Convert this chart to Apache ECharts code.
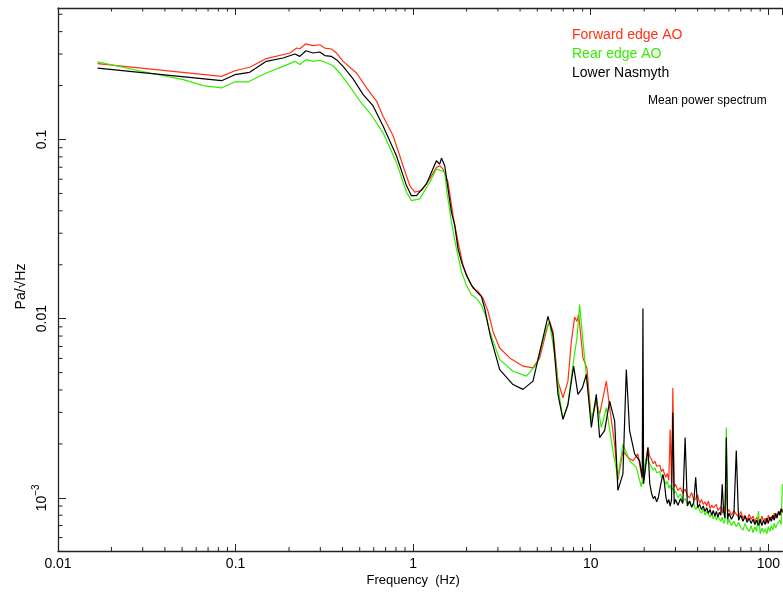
<!DOCTYPE html>
<html>
<head>
<meta charset="utf-8">
<title>Mean power spectrum</title>
<script src="https://cdn.jsdelivr.net/npm/echarts@6/dist/echarts.min.js"></script>
<style>
  html, body { margin: 0; padding: 0; background: #fff; }
  #chart { width: 783px; height: 592px; }
</style>
</head>
<body>
<div id="chart"></div>
<script>
// Spectrum values: [frequency (Hz), amplitude (Pa/sqrt(Hz))]
const seriesNames = ['Forward edge AO', 'Rear edge AO', 'Lower Nasmyth'];
const seriesColors = ['#ff3311', '#33ee00', '#000000'];

// Forward edge AO, 0.017 – 21.5 Hz
const forwardLow = [
  [0.0167, 0.265], [0.0834, 0.225], [0.0991, 0.242], [0.120, 0.253], [0.149, 0.283],
  [0.202, 0.304], [0.221, 0.324], [0.230, 0.321], [0.249, 0.342], [0.273, 0.334],
  [0.298, 0.338], [0.318, 0.324], [0.347, 0.320], [0.370, 0.304], [0.403, 0.273],
  [0.480, 0.235], [0.546, 0.194], [0.622, 0.164], [0.677, 0.135], [0.771, 0.105],
  [0.877, 0.0714], [0.957, 0.0553], [1.021, 0.0508], [1.114, 0.0519], [1.240, 0.0602],
  [1.352, 0.0699], [1.411, 0.0714], [1.473, 0.0684], [1.572, 0.0577], [1.677, 0.0377],
  [1.789, 0.0268], [1.909, 0.0199], [2.036, 0.0168], [2.173, 0.0148], [2.319, 0.0142],
  [2.475, 0.0130], [2.640, 0.0110], [2.816, 0.00849], [3.071, 0.00686], [3.497, 0.00604],
  [4.155, 0.00543], [4.729, 0.00531], [5.158, 0.00604], [5.743, 0.00924], [5.871, 0.00965],
  [6.128, 0.00849], [6.538, 0.00448], [6.975, 0.00362], [7.441, 0.00448], [7.776, 0.00747],
  [8.117, 0.0102], [8.362, 0.00965], [8.55, 0.0106], [9.040, 0.00604], [9.519, 0.00531],
  [10.08, 0.00269], [10.75, 0.00347], [11.22, 0.00292], [12.24, 0.00448], [12.78, 0.00319],
  [13.63, 0.00199], [14.22, 0.00125], [15.18, 0.00183], [16.20, 0.00168], [17.28, 0.00161],
  [18.43, 0.00176], [19.67, 0.00120], [20.99, 0.00191], [21.5, 0.00170]
];

// Rear edge AO, 0.017 – 21.5 Hz
const rearLow = [
  [0.0167, 0.271], [0.0329, 0.235], [0.0507, 0.216], [0.0657, 0.200], [0.0834, 0.194],
  [0.0991, 0.210], [0.118, 0.210], [0.149, 0.235], [0.185, 0.256], [0.216, 0.273],
  [0.230, 0.262], [0.249, 0.279], [0.273, 0.273], [0.298, 0.277], [0.325, 0.268],
  [0.354, 0.258], [0.386, 0.235], [0.440, 0.198], [0.501, 0.164], [0.570, 0.141],
  [0.677, 0.109], [0.805, 0.0745], [0.917, 0.0508], [0.978, 0.0456], [1.089, 0.0466],
  [1.240, 0.0577], [1.352, 0.0684], [1.443, 0.0669], [1.506, 0.0656], [1.540, 0.0530],
  [1.643, 0.0346], [1.752, 0.0246], [1.870, 0.0183], [1.994, 0.0154], [2.129, 0.0136],
  [2.271, 0.0130], [2.423, 0.0119], [2.585, 0.0101], [2.698, 0.00849], [3.071, 0.00591],
  [3.648, 0.00509], [4.342, 0.00478], [4.942, 0.00554], [5.625, 0.00886], [5.871, 0.00944],
  [6.264, 0.00630], [6.683, 0.00362], [6.975, 0.00274], [7.441, 0.00332], [7.939, 0.00554],
  [8.362, 0.00779], [8.661, 0.0120], [9.040, 0.00747], [9.519, 0.00448], [10.08, 0.00269],
  [10.75, 0.00362], [11.47, 0.00247], [12.24, 0.00319], [13.33, 0.00183], [14.22, 0.00130],
  [15.18, 0.00199], [16.55, 0.00161], [18.06, 0.00148], [19.26, 0.00115], [20.56, 0.00168],
  [21.5, 0.00155]
];

// Lower Nasmyth, 0.017 – 21.5 Hz
const nasmythLow = [
  [0.0167, 0.250], [0.0834, 0.213], [0.0991, 0.230], [0.120, 0.237], [0.149, 0.273],
  [0.185, 0.285], [0.216, 0.300], [0.230, 0.291], [0.249, 0.313], [0.273, 0.304],
  [0.298, 0.308], [0.318, 0.294], [0.347, 0.291], [0.370, 0.279], [0.403, 0.256],
  [0.459, 0.218], [0.523, 0.178], [0.595, 0.154], [0.677, 0.119], [0.805, 0.0811],
  [0.917, 0.0553], [0.978, 0.0486], [1.044, 0.0486], [1.188, 0.0565], [1.352, 0.0761],
  [1.411, 0.0729], [1.443, 0.0788], [1.473, 0.0795], [1.506, 0.0714], [1.572, 0.0530],
  [1.643, 0.0393], [1.714, 0.0332], [1.789, 0.0246], [1.870, 0.0208], [1.994, 0.0175],
  [2.129, 0.0154], [2.271, 0.0142], [2.423, 0.0133], [2.529, 0.0114], [2.640, 0.00924],
  [2.723, 0.00796], [3.071, 0.00520], [3.648, 0.00429], [4.155, 0.00403], [4.729, 0.00448],
  [5.383, 0.00779], [5.743, 0.0103], [6.128, 0.00813], [6.538, 0.00378], [6.975, 0.00274],
  [7.441, 0.00332], [8.012, 0.00543], [8.472, 0.00378], [8.970, 0.00411], [9.445, 0.00488],
  [10.08, 0.00247], [10.75, 0.00378], [11.22, 0.00217], [11.97, 0.00237], [12.78, 0.00347],
  [13.63, 0.00269], [14.22, 0.00110], [15.18, 0.00136], [15.86, 0.00520], [16.55, 0.00237],
  [17.66, 0.00176], [18.85, 0.00161], [19.5, 0.00130], [19.67, 0.0114], [19.85, 0.00120],
  [20.99, 0.00191], [21.5, 0.00120]
];

// High-frequency band, 22 – 120 Hz (shared frequency grid)
const freqHigh = [
  22, 22.5, 23, 23.5, 24, 24.5, 25, 25.5, 26, 26.5, 27, 27.5, 28, 28.5, 29, 29.5, 30,
  31, 32, 33, 34, 35, 36, 37, 38, 39, 40, 41, 42, 43, 44, 45, 46, 47, 48, 49, 50,
  51, 52, 53, 54, 55, 56, 57, 58, 59, 60,
  62, 64, 66, 68, 70, 72, 74, 76, 78, 80, 82, 84, 86, 88, 90, 92, 94, 96, 98, 100,
  102, 104, 106, 108, 110, 112, 114, 116, 118, 120
];
const forwardHigh = [
  1.64e-3, 1.55e-3, 1.60e-3, 1.50e-3, 1.47e-3, 1.52e-3, 1.40e-3, 1.45e-3, 1.36e-3,
  1.30e-3, 1.37e-3, 1.25e-3, 2.406e-3, 1.22e-3, 4.115e-3, 1.15e-3, 1.19e-3,
  1.10e-3, 1.14e-3, 1.06e-3, 1.12e-3, 1.03e-3, 1.00e-3, 1.07e-3, 0.97e-3, 0.99e-3,
  1.04e-3, 0.93e-3, 0.98e-3, 0.92e-3, 0.95e-3, 0.90e-3, 0.96e-3, 0.87e-3, 0.91e-3,
  0.88e-3, 0.86e-3, 0.92e-3, 0.85e-3, 0.84e-3, 0.89e-3, 0.82e-3, 0.90e-3, 0.84e-3,
  1.147e-3, 0.83e-3, 0.86e-3,
  0.80e-3, 0.85e-3, 0.81e-3, 0.78e-3, 0.84e-3, 0.77e-3, 0.80e-3, 0.75e-3, 0.81e-3,
  0.76e-3, 0.79e-3, 0.73e-3, 0.78e-3, 0.74e-3, 0.72e-3, 0.79e-3, 0.74e-3, 0.77e-3,
  0.72e-3, 0.80e-3, 0.75e-3, 0.79e-3, 0.76e-3, 0.82e-3, 0.77e-3, 0.80e-3, 0.79e-3,
  0.84e-3, 0.80e-3, 0.87e-3
];
const rearHigh = [
  1.52e-3, 1.43e-3, 1.47e-3, 1.38e-3, 1.35e-3, 1.40e-3, 1.30e-3, 1.34e-3, 1.25e-3,
  1.19e-3, 1.24e-3, 1.13e-3, 1.18e-3, 1.10e-3, 1.14e-3, 1.06e-3, 1.09e-3,
  1.00e-3, 1.05e-3, 0.96e-3, 0.99e-3, 0.92e-3, 0.95e-3, 0.88e-3, 0.93e-3, 0.86e-3,
  0.90e-3, 0.85e-3, 0.82e-3, 0.87e-3, 0.80e-3, 0.84e-3, 0.83e-3, 0.78e-3, 0.82e-3,
  0.76e-3, 0.81e-3, 0.75e-3, 0.79e-3, 0.76e-3, 0.74e-3, 0.78e-3, 0.72e-3, 0.75e-3,
  2.468e-3, 0.71e-3, 0.76e-3,
  0.70e-3, 0.74e-3, 0.69e-3, 0.73e-3, 0.68e-3, 0.66e-3, 0.72e-3, 0.67e-3, 0.65e-3,
  0.70e-3, 0.64e-3, 0.69e-3, 0.65e-3, 0.844e-3, 0.63e-3, 0.68e-3, 0.64e-3, 0.67e-3,
  0.63e-3, 0.69e-3, 0.65e-3, 0.70e-3, 0.66e-3, 0.72e-3, 0.68e-3, 0.71e-3, 0.70e-3,
  0.75e-3, 0.71e-3, 1.191e-3
];
const nasmythHigh = [
  1.06e-3, 0.99e-3, 1.02e-3, 0.95e-3, 1.00e-3, 1.12e-3, 1.24e-3, 1.35e-3, 1.21e-3,
  1.01e-3, 0.93e-3, 0.98e-3, 0.90e-3, 0.97e-3, 2.990e-3, 0.92e-3, 0.98e-3,
  0.91e-3, 0.99e-3, 0.93e-3, 2.172e-3, 0.90e-3, 0.96e-3, 0.89e-3, 0.94e-3, 1.303e-3,
  0.88e-3, 0.92e-3, 0.86e-3, 0.90e-3, 0.84e-3, 0.88e-3, 0.82e-3, 0.86e-3, 0.80e-3,
  0.85e-3, 0.79e-3, 0.84e-3, 0.78e-3, 0.83e-3, 0.80e-3, 1.191e-3, 0.84e-3, 0.77e-3,
  2.172e-3, 0.76e-3, 0.82e-3,
  0.76e-3, 0.81e-3, 1.839e-3, 0.75e-3, 0.80e-3, 0.74e-3, 0.79e-3, 0.73e-3, 0.77e-3,
  0.72e-3, 0.76e-3, 0.71e-3, 0.75e-3, 0.70e-3, 0.76e-3, 0.70e-3, 0.75e-3, 0.71e-3,
  0.77e-3, 0.72e-3, 0.78e-3, 0.74e-3, 0.80e-3, 0.75e-3, 0.82e-3, 0.77e-3, 0.84e-3,
  0.80e-3, 0.87e-3, 0.83e-3
];

// Minor tick positions (2..9 within each decade)
const xMinorTicks = [
  0.02, 0.03, 0.04, 0.05, 0.06, 0.07, 0.08, 0.09,
  0.2, 0.3, 0.4, 0.5, 0.6, 0.7, 0.8, 0.9,
  2, 3, 4, 5, 6, 7, 8, 9,
  20, 30, 40, 50, 60, 70, 80, 90
];
const yMinorTicks = [
  0.0006, 0.0007, 0.0008, 0.0009,
  0.002, 0.003, 0.004, 0.005, 0.006, 0.007, 0.008, 0.009,
  0.02, 0.03, 0.04, 0.05, 0.06, 0.07, 0.08, 0.09,
  0.2, 0.3, 0.4, 0.5
];

const X_MIN = 0.01, X_MAX = 120;
const Y_MIN = 0.000505, Y_MAX = 0.542;
const AXIS_COLOR = '#222';
const FONT = '"Liberation Sans", Arial, sans-serif';

function joinBands(low, high) {
  return low.concat(freqHigh.map(function (f, i) { return [f, high[i]]; }));
}

function isDecade(v) {
  const e = Math.log10(v);
  return Math.abs(e - Math.round(e)) < 1e-6;
}

const chart = echarts.init(document.getElementById('chart'), null, { renderer: 'canvas' });

const lineSeries = [
  joinBands(forwardLow, forwardHigh),
  joinBands(rearLow, rearHigh),
  joinBands(nasmythLow, nasmythHigh)
].map(function (data, i) {
  return {
    name: seriesNames[i],
    type: 'line',
    data: data,
    showSymbol: false,
    symbol: 'none',
    clip: true,
    lineStyle: { color: seriesColors[i], width: 1.2 },
    itemStyle: { color: seriesColors[i] },
    z: 2 + i
  };
});

// Minor ticks on the bottom and top frame edges
const xMinorSeries = {
  type: 'custom',
  silent: true,
  z: 10,
  xAxisIndex: 0,
  yAxisIndex: 0,
  data: xMinorTicks.map(function (f) { return [f, Y_MIN]; }),
  renderItem: function (params, api) {
    const f = api.value(0);
    const b = api.coord([f, Y_MIN]);
    const t = api.coord([f, Y_MAX]);
    const st = { stroke: AXIS_COLOR, lineWidth: 1 };
    return {
      type: 'group',
      children: [
        { type: 'line', shape: { x1: b[0], y1: b[1], x2: b[0], y2: b[1] - 4 }, style: st },
        { type: 'line', shape: { x1: t[0], y1: t[1], x2: t[0], y2: t[1] + 3.5 }, style: st }
      ]
    };
  }
};

// Minor ticks on the left frame edge
const yMinorSeries = {
  type: 'custom',
  silent: true,
  z: 10,
  xAxisIndex: 0,
  yAxisIndex: 0,
  data: yMinorTicks.map(function (v) { return [X_MIN, v]; }),
  renderItem: function (params, api) {
    const v = api.value(1);
    const p = api.coord([X_MIN, v]);
    return {
      type: 'line',
      shape: { x1: p[0], y1: p[1], x2: p[0] + 4.5, y2: p[1] },
      style: { stroke: AXIS_COLOR, lineWidth: 1 }
    };
  }
};

const option = {
  animation: false,
  backgroundColor: '#ffffff',
  textStyle: { fontFamily: FONT, color: '#000' },
  title: {
    text: 'Mean power spectrum',
    left: 648,
    top: 95,
    padding: 0,
    textStyle: { fontFamily: FONT, fontSize: 12, fontWeight: 'normal', color: '#000' }
  },
  legend: {
    orient: 'vertical',
    left: 562,
    top: 23,
    itemGap: 5,
    itemWidth: 0,
    itemHeight: 0,
    selectedMode: false,
    icon: 'rect',
    textStyle: { fontFamily: FONT, fontSize: 14 },
    data: seriesNames.map(function (n, i) {
      return { name: n, textStyle: { color: seriesColors[i] } };
    })
  },
  grid: { left: 58, right: 0, top: 8, bottom: 40, containLabel: false },
  xAxis: [
    {
      type: 'log',
      logBase: 10,
      min: X_MIN,
      max: X_MAX,
      position: 'bottom',
      name: 'Frequency  (Hz)',
      nameLocation: 'middle',
      nameGap: 23,
      nameMoveOverlap: false,
      nameTextStyle: { fontFamily: FONT, fontSize: 13, color: '#000', padding: [0, 14, 0, 0] },
      axisLine: { show: true, onZero: false, lineStyle: { color: AXIS_COLOR, width: 1.3 } },
      axisTick: { show: true, inside: true, length: 7, lineStyle: { color: AXIS_COLOR, width: 1 } },
      axisLabel: {
        show: true,
        margin: 6,
        fontFamily: FONT,
        fontSize: 14,
        color: '#000',
        showMinLabel: true,
        showMaxLabel: false,
        formatter: function (v) {
          if (!isDecade(v)) return '';
          const e = Math.round(Math.log10(v));
          return e < 0 ? (1 / Math.pow(10, -e)).toFixed(-e) : String(Math.pow(10, e));
        }
      },
      splitLine: { show: false },
      minorTick: { show: false }
    },
    {
      type: 'log',
      logBase: 10,
      min: X_MIN,
      max: X_MAX,
      position: 'top',
      axisLine: { show: true, onZero: false, lineStyle: { color: AXIS_COLOR, width: 1.3 } },
      axisTick: { show: true, inside: true, length: 7, lineStyle: { color: AXIS_COLOR, width: 1 } },
      axisLabel: { show: false },
      splitLine: { show: false }
    }
  ],
  yAxis: [
    {
      type: 'log',
      logBase: 10,
      min: Y_MIN,
      max: Y_MAX,
      position: 'left',
      name: 'Pa/√Hz',
      nameLocation: 'middle',
      nameGap: 30,
      nameRotate: 90,
      nameMoveOverlap: false,
      nameTextStyle: { fontFamily: FONT, fontSize: 14, color: '#000', padding: [0, 14, 0, 0] },
      axisLine: { show: true, onZero: false, lineStyle: { color: AXIS_COLOR, width: 1.3 } },
      axisTick: { show: true, inside: true, length: 8, lineStyle: { color: AXIS_COLOR, width: 1 } },
      axisLabel: {
        show: true,
        rotate: 90,
        margin: 9,
        fontFamily: FONT,
        fontSize: 14,
        color: '#000',
        showMinLabel: false,
        showMaxLabel: false,
        formatter: function (v) {
          if (!isDecade(v)) return '';
          const e = Math.round(Math.log10(v));
          if (e <= -3) return '{base|10}{exp|−' + (-e) + '}';
          return (1 / Math.pow(10, -e)).toFixed(-e);
        },
        rich: {
          base: { fontFamily: FONT, fontSize: 14, color: '#000', lineHeight: 18, verticalAlign: 'bottom' },
          exp: { fontFamily: FONT, fontSize: 10, color: '#000', lineHeight: 18, verticalAlign: 'top' }
        }
      },
      splitLine: { show: false }
    }
  ],
  series: lineSeries.concat([xMinorSeries, yMinorSeries])
};

chart.setOption(option);
</script>
</body>
</html>
